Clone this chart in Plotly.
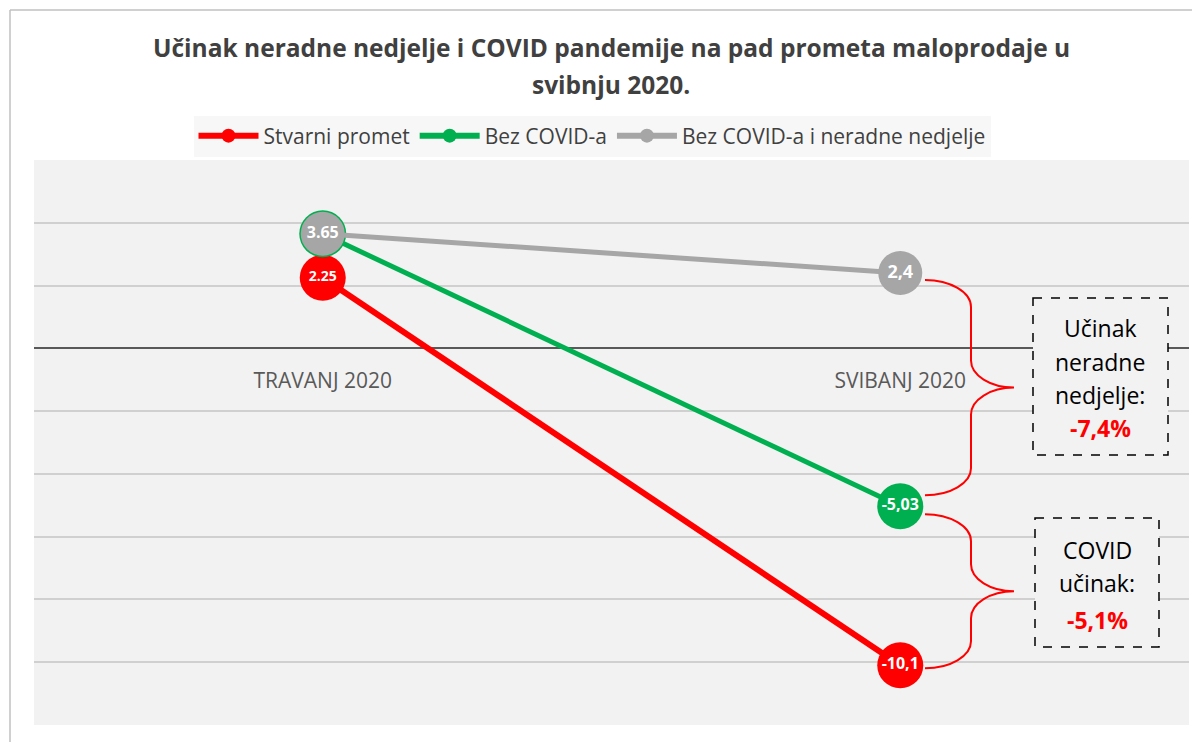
import plotly.graph_objects as go

# ---------------- data ----------------
categories = ["TRAVANJ 2020", "SVIBANJ 2020"]
series_names = ["Stvarni promet", "Bez COVID-a", "Bez COVID-a i neradne nedjelje"]
stvarni = [2.25, -10.1]
bez_covid = [3.65, -5.03]
bez_covid_nedjelje = [3.65, 2.4]
stvarni_labels = ["2.25", "-10,1"]
bez_covid_labels = ["", "-5,03"]
bez_covid_nedjelje_labels = ["3.65", "2,4"]
box1_lines = ["Učinak", "neradne", "nedjelje:"]
box1_value = "-7,4%"
box2_lines = ["COVID", "učinak:"]
box2_value = "-5,1%"
title_lines = ["Učinak neradne nedjelje i COVID pandemije na pad prometa maloprodaje u",
               "svibnju 2020."]

# ---------------- style ----------------
RED = "#ff0000"
GREEN = "#00b050"
GRAY = "#a6a6a6"
FONT = "Open Sans"
TXT = "#404040"

W, H = 1200, 742
OFF = 8  # page body offset of the plot div
# plot area in screen pixels
SX0, SX1, SY0, SY1 = 34, 1189, 160, 725
L, T = SX0 - OFF, SY0 - OFF
R, B = W - (SX1 - OFF), H - (SY1 - OFF)
YMIN, YMAX = -12, 6
XMIN, XMAX = -0.5, 1.5
pw, ph = SX1 - SX0, SY1 - SY0


def px2x(px):
    return XMIN + (px - SX0) / pw * (XMAX - XMIN)


def px2y(py):
    return YMAX - (py - SY0) / ph * (YMAX - YMIN)


def y2px(v):
    return SY0 + (YMAX - v) / (YMAX - YMIN) * ph


def ppx(px):
    return (px - SX0) / pw


def ppy(py):
    return (SY1 - py) / ph


xs = list(range(len(categories)))

fig = go.Figure()

traces = [
    (series_names[0], stvarni, stvarni_labels, RED, 6, [46, 46], [14, 16]),
    (series_names[1], bez_covid, bez_covid_labels, GREEN, 5, [47, 46], [16, 16]),
    (series_names[2], bez_covid_nedjelje, bez_covid_nedjelje_labels, GRAY, 5, [44, 44], [16, 18]),
]
for name, vals, labels, col, lw, msize, fsize in traces:
    fig.add_trace(go.Scatter(
        x=xs, y=vals, mode="lines+markers+text", name=name, showlegend=False,
        line=dict(color=col, width=lw),
        marker=dict(color=col, size=msize, opacity=1, line=dict(width=0)),
        text=labels, textposition="middle center",
        textfont=dict(color="white", size=fsize, family=FONT, weight="bold"),
        hoverinfo="skip", cliponaxis=False,
    ))
# legend-only entries
for name, vals, labels, col, lw, msize, fsize in traces:
    fig.add_trace(go.Scatter(
        x=[None], y=[None], mode="lines+markers", name=name, showlegend=True,
        line=dict(color=col, width=6), marker=dict(color=col, size=14, opacity=1),
    ))


# ---------------- braces ----------------
def brace(v_top, v_bot, off_top, off_bot):
    t = y2px(v_top) + off_top
    b = y2px(v_bot) - off_bot
    m = (t + b) / 2
    x0, x1, x2 = 925, 971, 1014
    r = 27
    k = 0.55
    pts = [
        ("M", [(x0, t)]),
        ("C", [(x0 + k * (x1 - x0), t), (x1, t + r - k * r), (x1, t + r)]),
        ("L", [(x1, m - r)]),
        ("C", [(x1, m - r + k * r), (x2 - k * (x2 - x1), m), (x2, m)]),
        ("C", [(x2 - k * (x2 - x1), m), (x1, m + r - k * r), (x1, m + r)]),
        ("L", [(x1, b - r)]),
        ("C", [(x1, b - r + k * r), (x0 + k * (x1 - x0), b), (x0, b)]),
    ]
    s = ""
    for cmd, pl in pts:
        s += cmd + " " + " ".join(f"{px2x(a):.5f},{px2y(c):.5f}" for a, c in pl) + " "
    return s.strip()


shapes = []
shapes.append(dict(type="path", xref="x", yref="y",
                   path=brace(bez_covid_nedjelje[1], bez_covid[1], 7, 11),
                   line=dict(color=RED, width=2)))
shapes.append(dict(type="path", xref="x", yref="y",
                   path=brace(bez_covid[1], stvarni[1], 8, -3),
                   line=dict(color=RED, width=2)))

# dashed boxes
for (x0, x1, y0, y1) in [(1033, 1168, 298, 455), (1035, 1159, 518, 647)]:
    shapes.append(dict(type="rect", xref="x", yref="y",
                       x0=px2x(x0), x1=px2x(x1), y0=px2y(y0), y1=px2y(y1),
                       fillcolor="#f2f2f2", line=dict(color="black", width=1.5, dash="dash"),
                       layer="above"))

# outer chart frame (left + top border)
shapes.append(dict(type="line", xref="paper", yref="paper",
                   x0=ppx(10), x1=ppx(10), y0=ppy(10), y1=ppy(760),
                   line=dict(color="#c0c0c0", width=1.5)))
shapes.append(dict(type="line", xref="paper", yref="paper",
                   x0=ppx(10), x1=ppx(1220), y0=ppy(10), y1=ppy(10),
                   line=dict(color="#c0c0c0", width=1.5)))

annotations = []
# title
for line, py in zip(title_lines, [47, 84]):
    annotations.append(dict(text=f"<b>{line}</b>", xref="paper", yref="paper",
                            x=ppx(611), y=ppy(py),
                            xanchor="center", yanchor="middle", showarrow=False,
                            font=dict(family=FONT, size=24.5, color=TXT)))
# box texts
BOXF = 23
for line, py in zip(box1_lines, [328, 362, 395]):
    annotations.append(dict(text=line, xref="x", yref="y", x=px2x(1100), y=px2y(py),
                            showarrow=False, font=dict(family=FONT, size=BOXF, color="black")))
annotations.append(dict(text=f"<b>{box1_value}</b>", xref="x", yref="y", x=px2x(1100), y=px2y(428),
                        showarrow=False, font=dict(family=FONT, size=BOXF, color=RED)))
for line, py in zip(box2_lines, [550, 583]):
    annotations.append(dict(text=line, xref="x", yref="y", x=px2x(1097), y=px2y(py),
                            showarrow=False, font=dict(family=FONT, size=BOXF, color="black")))
annotations.append(dict(text=f"<b>{box2_value}</b>", xref="x", yref="y", x=px2x(1097), y=px2y(620),
                        showarrow=False, font=dict(family=FONT, size=BOXF, color=RED)))

fig.update_layout(
    width=W, height=H,
    margin=dict(l=L, r=R, t=T, b=B),
    paper_bgcolor="white", plot_bgcolor="#f2f2f2",
    font=dict(family=FONT, color=TXT),
    shapes=shapes, annotations=annotations,
    legend=dict(orientation="h", x=ppx(592), y=ppy(136),
                xanchor="center", yanchor="middle", bgcolor="#f7f7f7",
                font=dict(family=FONT, size=21, color=TXT), itemwidth=60,
                traceorder="normal"),
    xaxis=dict(range=[XMIN, XMAX], tickvals=xs, ticktext=categories,
               anchor="free", position=(0 - YMIN) / (YMAX - YMIN),
               showgrid=False, zeroline=False, showline=False,
               ticks="outside", ticklen=13, tickcolor="rgba(0,0,0,0)",
               tickfont=dict(family=FONT, size=21, color="#595959"), fixedrange=True),
    yaxis=dict(range=[YMIN, YMAX], dtick=2, showticklabels=False,
               showgrid=True, gridcolor="#d0d0d0", gridwidth=1.5,
               zeroline=True, zerolinecolor="#595959", zerolinewidth=1.5,
               showline=False, fixedrange=True),
)

fig.write_html("out.html")
